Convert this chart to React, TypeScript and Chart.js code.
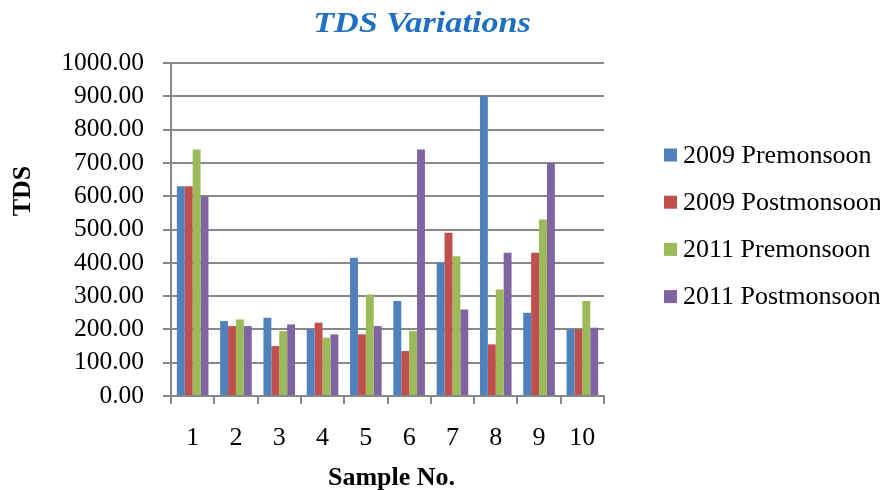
import React, { useEffect, useRef } from "react";
import { Chart, registerables } from "chart.js";

Chart.register(...registerables);

const categories = ["1", "2", "3", "4", "5", "6", "7", "8", "9", "10"];
const seriesLabels = ["2009 Premonsoon", "2009 Postmonsoon", "2011 Premonsoon", "2011 Postmonsoon"];
const pre2009 = [630, 225, 235, 200, 415, 285, 400, 900, 250, 200];
const post2009 = [630, 210, 150, 220, 185, 135, 490, 155, 430, 200];
const pre2011 = [740, 230, 195, 175, 305, 195, 420, 320, 530, 285];
const post2011 = [600, 210, 215, 185, 210, 740, 260, 430, 700, 205];
const seriesColors = ["#4F81BD", "#C0504D", "#9BBB59", "#8064A2"];
const chartTitle = "TDS Variations";
const xTitle = "Sample No.";
const yTitle = "TDS";

const SERIF = "'Liberation Serif', 'Times New Roman', serif";
const GRID = "#888888";

const overlayPlugin = {
  id: "overlay",
  afterDraw(chart: any) {
    const ctx = chart.ctx;
    const area = chart.chartArea;
    ctx.save();
    // Title (slightly widened like the reference)
    ctx.save();
    ctx.fillStyle = "#1F70C1";
    ctx.font = `bold italic 30px ${SERIF}`;
    ctx.textAlign = "center";
    ctx.textBaseline = "middle";
    ctx.translate(422, 24);
    ctx.scale(1.14, 1);
    ctx.fillText(chartTitle, 0, 0);
    ctx.restore();
    // X title
    ctx.fillStyle = "#000";
    ctx.textAlign = "center";
    ctx.textBaseline = "middle";
    ctx.font = `bold 26px ${SERIF}`;
    ctx.fillText(xTitle, (area.left + area.right) / 2 + 4, 478);
    // Y title
    ctx.save();
    ctx.translate(23, 191);
    ctx.rotate(-Math.PI / 2);
    ctx.fillText(yTitle, 0, 0);
    ctx.restore();
    // Legend
    ctx.font = `26px ${SERIF}`;
    ctx.textAlign = "left";
    chart.data.datasets.forEach((ds: any, i: number) => {
      const y = 155 + i * 47.2;
      ctx.fillStyle = ds.backgroundColor;
      ctx.fillRect(664, y - 6.5, 13, 13);
      ctx.fillStyle = "#000";
      ctx.fillText(ds.label, 683, y + 1);
    });
    ctx.restore();
  },
};

export default function App() {
  const canvasRef = useRef<HTMLCanvasElement | null>(null);

  useEffect(() => {
    if (!canvasRef.current) return;
    const seriesValues = [pre2009, post2009, pre2011, post2011];
    const chart = new Chart(canvasRef.current, {
      type: "bar",
      data: {
        labels: categories,
        datasets: seriesLabels.map((label, i) => ({
          label,
          data: seriesValues[i],
          backgroundColor: seriesColors[i],
          borderWidth: 0,
          categoryPercentage: 0.73,
          barPercentage: 1.0,
        })),
      },
      options: {
        responsive: false,
        animation: false,
        devicePixelRatio: 1,
        layout: { padding: { top: 63, right: 276, left: 0, bottom: 0 } },
        plugins: {
          legend: { display: false },
          title: { display: false },
          tooltip: { enabled: false },
        },
        scales: {
          x: {
            afterFit: (scale: any) => {
              scale.height = 94;
            },
            grid: {
              display: true,
              drawOnChartArea: false,
              drawTicks: true,
              tickLength: 8,
              offset: true,
              color: GRID,
              lineWidth: 2,
            },
            border: { display: true, color: GRID, width: 2 },
            ticks: {
              color: "#000",
              font: { family: SERIF, size: 26 },
              padding: 19,
              maxRotation: 0,
              autoSkip: false,
            },
          },
          y: {
            min: 0,
            max: 1000,
            afterFit: (scale: any) => {
              scale.width = 171;
            },
            grid: {
              color: GRID,
              lineWidth: 2,
              drawTicks: true,
              tickLength: 8,
            },
            border: { display: true, color: GRID, width: 2 },
            ticks: {
              stepSize: 100,
              autoSkip: false,
              color: "#000",
              font: { family: SERIF, size: 25.5 },
              padding: 19,
              callback: (v: any) => Number(v).toFixed(2),
            },
          },
        },
      },
      plugins: [overlayPlugin],
    });
    return () => chart.destroy();
  }, []);

  return (
    <div style={{ position: "absolute", left: 0, top: 0, width: 880, height: 490, background: "#fff" }}>
      <canvas ref={canvasRef} width={880} height={490} />
    </div>
  );
}
